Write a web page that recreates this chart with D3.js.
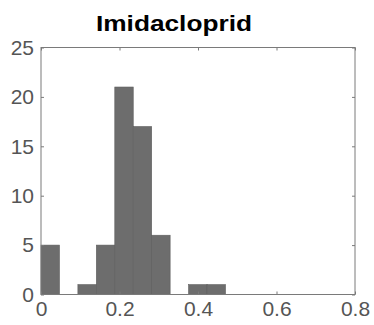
<!DOCTYPE html>
<html>
<head>
<meta charset="utf-8">
<script src="https://cdn.jsdelivr.net/npm/d3@7"></script>
<style>
  html, body { margin: 0; padding: 0; background: #fff; }
</style>
</head>
<body>
<div id="chart"></div>
<script>
// histogram bins
const binEdges = [0, 0.047, 0.094, 0.141, 0.188, 0.235, 0.282, 0.329, 0.376, 0.423, 0.47];
const counts = [5, 0, 1, 5, 21, 17, 6, 0, 1, 1];
const xTicks = [0, 0.2, 0.4, 0.6, 0.8];
const yTicks = [0, 5, 10, 15, 20, 25];
const title = "Imidacloprid";

const width = 374, height = 325;
const margin = { top: 47.5, right: 19, bottom: 30.5, left: 41 };
const font = "'Liberation Sans', Arial, Helvetica, sans-serif";
const axisColor = "#7a7a7a";
const textColor = "#555555";

const svg = d3.select("#chart").append("svg")
    .attr("width", width)
    .attr("height", height)
    .style("display", "block");

const x = d3.scaleLinear().domain([0, 0.8]).range([margin.left, width - margin.right]);
const y = d3.scaleLinear().domain([0, 25]).range([height - margin.bottom, margin.top]);

const bins = counts.map((c, i) => ({ x0: binEdges[i], x1: binEdges[i + 1], n: c }));

// bars
svg.append("g")
    .selectAll("rect")
    .data(bins.filter(d => d.n > 0))
    .join("rect")
    .attr("x", d => x(d.x0))
    .attr("y", d => y(d.n))
    .attr("width", d => x(d.x1) - x(d.x0))
    .attr("height", d => y(0) - y(d.n))
    .attr("fill", "#6d6d6d")
    .attr("stroke", "#5e5e5e")
    .attr("stroke-width", 0.6);

// axes with inward ticks
const tickLen = 3;
const xAxis = d3.axisBottom(x).tickValues(xTicks).tickSize(-tickLen).tickPadding(7)
    .tickFormat(d => d === 0 ? "0" : d3.format(".1f")(d));
const yAxis = d3.axisLeft(y).tickValues(yTicks).tickSize(-tickLen).tickPadding(7);

const gx = svg.append("g").attr("transform", `translate(0,${y(0)})`).call(xAxis);
const gy = svg.append("g").attr("transform", `translate(${x(0)},0)`).call(yAxis);
const gxTop = svg.append("g").attr("transform", `translate(0,${y(25)})`)
    .call(d3.axisTop(x).tickValues(xTicks).tickSize(-tickLen).tickFormat(""));
const gyRight = svg.append("g").attr("transform", `translate(${x(0.8)},0)`)
    .call(d3.axisRight(y).tickValues(yTicks).tickSize(-tickLen).tickFormat(""));

[gx, gy, gxTop, gyRight].forEach(g => {
    g.select(".domain").remove();
    g.selectAll("line").attr("stroke", axisColor);
    g.selectAll("text")
        .attr("fill", textColor)
        .attr("font-family", font)
        .attr("font-size", 21);
});

// box
svg.append("rect")
    .attr("x", x(0)).attr("y", y(25))
    .attr("width", x(0.8) - x(0)).attr("height", y(0) - y(25))
    .attr("fill", "none")
    .attr("stroke", axisColor)
    .attr("stroke-width", 1);

// title
svg.append("text")
    .attr("x", 174)
    .attr("y", 31)
    .attr("text-anchor", "middle")
    .attr("font-family", font)
    .attr("font-weight", "bold")
    .attr("font-size", 22)
    .attr("textLength", 156)
    .attr("lengthAdjust", "spacingAndGlyphs")
    .attr("fill", "#000")
    .text(title);
</script>
</body>
</html>
